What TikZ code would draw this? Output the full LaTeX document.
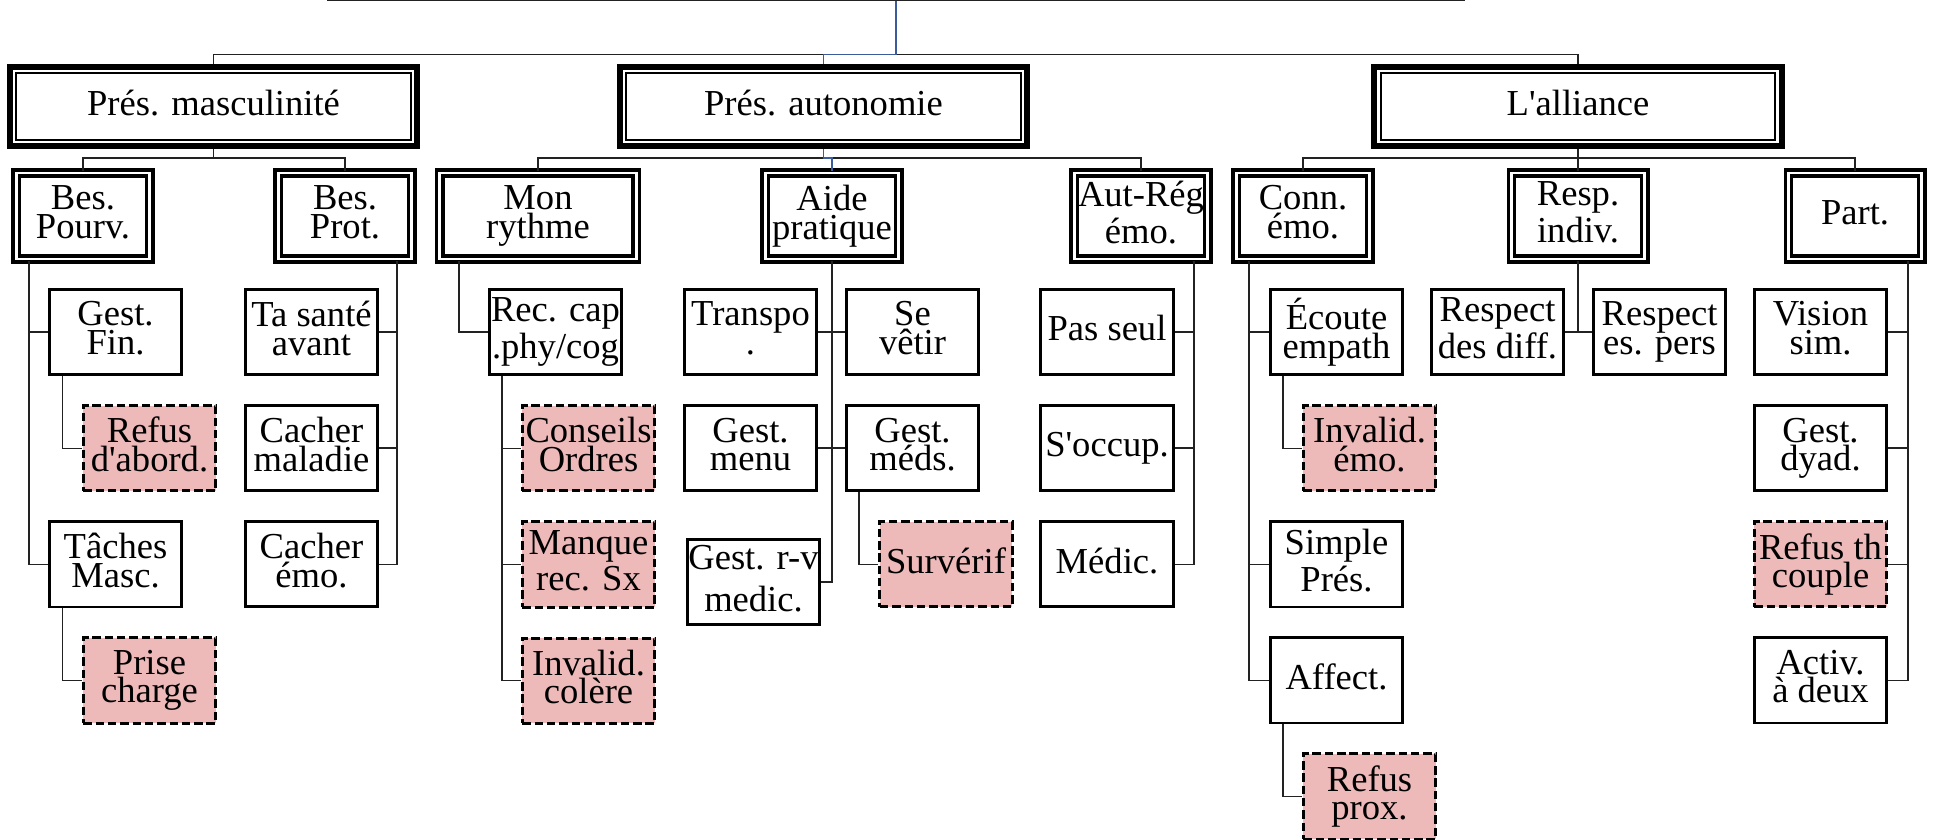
\documentclass[tikz,border=0pt]{standalone}
\usepackage{fontspec}
\setmainfont{Liberation Serif}[Ligatures=TeXOff]
\usepackage{xcolor}
\usepackage{tikz}
\usetikzlibrary{positioning}
\definecolor{MP_PINK}{HTML}{EDB9B9}
\definecolor{MP_BLUE}{HTML}{3A5C9C}
\definecolor{MP_LINE}{HTML}{222222}
\tikzset{
  lvlone/.style={
    rectangle, draw, line width=1.7pt,
    minimum width=4.07cm, minimum height=0.79cm,
    inner sep=0pt, text centered, align=center, text depth=2.2pt,
    font=\fontsize{10.4}{8.1}\selectfont,
    path picture={\draw[line width=0.5pt]
      ([shift={(0.063cm,-0.063cm)}]path picture bounding box.north west) rectangle
      ([shift={(-0.063cm,0.063cm)}]path picture bounding box.south east);}},
  lvltwo/.style={
    rectangle, draw, line width=1pt, double=white, double distance=0.75pt,
    minimum width=1.333cm, minimum height=0.863cm,
    inner sep=0pt, text centered, align=center, text depth=2.2pt,
    font=\fontsize{10.4}{8.1}\selectfont},
  leaf/.style={
    rectangle, draw, line width=0.8pt, fill=white,
    minimum width=1.322cm, minimum height=0.852cm,
    inner sep=0pt, text centered, align=center, text depth=2.2pt,
    font=\fontsize{10.4}{8.1}\selectfont},
  refus/.style={leaf, line width=0.85pt, fill=MP_PINK, dash pattern=on 2.4pt off 1.1pt},
  conn/.style={draw=MP_LINE, line width=0.35pt},
  hilite/.style={draw=MP_BLUE, line width=0.5pt},
}

\begin{document}
\begin{tikzpicture}[x=0.01cm, y=-0.01cm, node distance=0.28cm]
  \useasboundingbox (0,0) rectangle (1934,840);

  \coordinate (topl) at (327,0.6);
  \coordinate (topr) at (1465,0.6);
  \coordinate (topc) at (896,0.6);

  \node[lvlone] (masc) at (213.5,106.5) {Prés. masculinité};
  \node[lvlone] (auton) at (823.5,106.5) {Prés. autonomie};
  \node[lvlone] (alli) at (1578,106.5) {L'alliance};

  \node[lvltwo] (bpourv) at (83,216) {Bes.\\Pourv.};
  \node[lvltwo] (bprot) at (345,216) {Bes.\\Prot.};
  \node[lvltwo, minimum width=1.963cm] (mrythme) at (538,216) {Mon\\rythme};
  \node[lvltwo] (aide) at (832,216) {Aide\\pratique};
  \node[lvltwo] (autreg) at (1141,216) {Aut-Rég\\émo.};
  \node[lvltwo] (connemo) at (1303,216) {Conn.\\émo.};
  \node[lvltwo] (resp) at (1578,216) {Resp.\\indiv.};
  \node[lvltwo] (part) at (1855,216) {Part.};

  % masculinité
  \node[leaf] (gfin) at (115.5,332) {Gest.\\Fin.};
  \node[refus, below=of gfin, xshift=0.34cm] (refab) {Refus\\d'abord.};
  \node[leaf, below=of refab, xshift=-0.34cm] (tmasc) {Tâches\\Masc.};
  \node[refus, below=of tmasc, xshift=0.34cm] (prise) {Prise\\charge};

  \node[leaf] (tasante) at (311.5,332) {Ta santé\\avant};
  \node[leaf, below=of tasante] (cmal) {Cacher\\maladie};
  \node[leaf, below=of cmal] (cemo) {Cacher\\émo.};

  % autonomie
  \node[leaf] (reccap) at (555.5,332) {Rec. cap\\.phy/cog};
  \node[refus, below=of reccap, xshift=0.33cm] (conseils) {Conseils\\Ordres};
  \node[refus, below=of conseils] (manque) {Manque\\rec. Sx};
  \node[refus, below=of manque] (invcol) {Invalid.\\colère};

  \node[leaf] (transpo) at (750.5,332) {Transpo\\.};
  \node[leaf, below=of transpo] (gmenu) {Gest.\\menu};
  \node[leaf] (grv) at (753.5,582) {Gest. r-v\\[3.9pt]medic.};
  \node[leaf] (sevetir) at (912.5,332) {Se\\vêtir};
  \node[leaf, below=of sevetir] (gmeds) {Gest.\\méds.};
  \node[refus, below=of gmeds, xshift=0.335cm] (surverif) {Survérif};

  \node[leaf] (passeul) at (1107,332) {Pas seul};
  \node[leaf, below=of passeul] (soccup) {S'occup.};
  \node[leaf, below=of soccup] (medic) {Médic.};

  % alliance
  \node[leaf] (ecoute) at (1336.5,332) {Écoute\\empath};
  \node[refus, below=of ecoute, xshift=0.33cm] (invemo) {Invalid.\\émo.};
  \node[leaf, below=of invemo, xshift=-0.33cm] (simple) {Simple\\Prés.};
  \node[leaf, below=of simple] (affect) {Affect.};
  \node[refus, below=of affect, xshift=0.33cm] (refprox) {Refus\\prox.};

  \node[leaf] (respdiff) at (1497.5,332) {Respect\\des diff.};
  \node[leaf] (resppers) at (1659.5,332) {Respect\\es. pers};

  \node[leaf] (vision) at (1820.5,332) {Vision\\sim.};
  \node[leaf, below=of vision] (gdyad) {Gest.\\dyad.};
  \node[refus, below=of gdyad] (refth) {Refus th\\couple};
  \node[leaf, below=of refth] (activ) {Activ.\\à deux};

  % upper tree
  \draw[conn] (topl) -- (topr);
  \draw[conn] (masc.north) -- ++(0,0.095cm) -| (alli.north);
  \foreach \kid in {bpourv,bprot}
    \draw[conn] (masc.south) -- ++(0,-0.09cm) -| (\kid.north);
  \foreach \kid in {mrythme,autreg}
    \draw[conn] (auton.south) -- ++(0,-0.09cm) -| (\kid.north);
  \foreach \kid in {connemo,resp,part}
    \draw[conn] (alli.south) -- ++(0,-0.09cm) -| (\kid.north);
  \draw[hilite] (topc) |- ([yshift=0.095cm]auton.north) -- (auton.north);
  \draw[hilite] (auton.south) -- ++(0,-0.09cm) -| (aide.north);

  % leaves
  \foreach \kid in {gfin,tmasc}
    \draw[conn] ([xshift=-0.54cm]bpourv.south) |- (\kid.west);
  \draw[conn] ([xshift=-0.53cm]gfin.south) |- (refab.west);
  \draw[conn] ([xshift=-0.53cm]tmasc.south) |- (prise.west);
  \foreach \kid in {tasante,cmal,cemo}
    \draw[conn] ([xshift=0.52cm]bprot.south) |- (\kid.east);

  \draw[conn] ([xshift=-0.79cm]mrythme.south) |- (reccap.west);
  \foreach \kid in {conseils,manque,invcol}
    \draw[conn] ([xshift=-0.535cm]reccap.south) |- (\kid.west);
  \foreach \kid in {transpo,gmenu,grv}
    \draw[conn] (aide.south) |- (\kid.east);
  \foreach \kid in {sevetir,gmeds}
    \draw[conn] (aide.south) |- (\kid.west);
  \draw[conn] ([xshift=-0.535cm]gmeds.south) |- (surverif.west);
  \foreach \kid in {passeul,soccup,medic}
    \draw[conn] ([xshift=0.53cm]autreg.south) |- (\kid.east);

  \foreach \kid in {ecoute,simple,affect}
    \draw[conn] ([xshift=-0.54cm]connemo.south) |- (\kid.west);
  \draw[conn] ([xshift=-0.535cm]ecoute.south) |- (invemo.west);
  \draw[conn] ([xshift=-0.535cm]affect.south) |- (refprox.west);
  \draw[conn] (resp.south) |- (respdiff.east);
  \draw[conn] (resp.south) |- (resppers.west);
  \foreach \kid in {vision,gdyad,refth,activ}
    \draw[conn] ([xshift=0.53cm]part.south) |- (\kid.east);

\end{tikzpicture}
\end{document}
